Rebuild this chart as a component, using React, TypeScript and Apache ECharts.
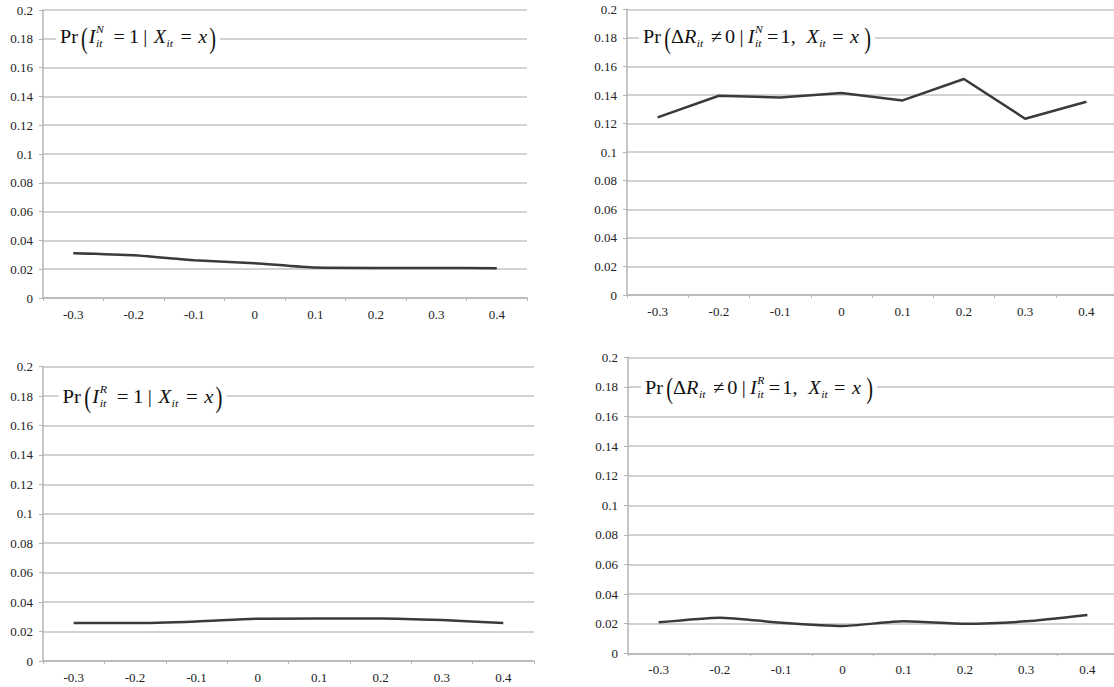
import React, { useEffect, useRef } from "react";
import * as echarts from "echarts";

// ---------- data ----------
const categories = ["-0.3", "-0.2", "-0.1", "0", "0.1", "0.2", "0.3", "0.4"];
const probNoticeN = [0.0311, 0.0297, 0.0263, 0.0242, 0.0211, 0.0209, 0.0209, 0.0207];
const probChangeN = [0.1243, 0.1395, 0.1383, 0.1414, 0.1362, 0.1512, 0.1234, 0.1353];
const probNoticeR = [0.0258, 0.0258, 0.0269, 0.0287, 0.0289, 0.0289, 0.0278, 0.0258];
const probChangeR = [0.0209, 0.0241, 0.0207, 0.0185, 0.0216, 0.02, 0.0216, 0.0259];
const yMin = 0;
const yMax = 0.2;
const yStep = 0.02;

// ---------- formula tokens ----------
type Tok = { t?: string; i?: boolean; big?: boolean; sup?: string; sub?: string; g?: number };

const formulaNotice = (s: string): Tok[] => [
  { t: "Pr", g: 3 },
  { t: "(", big: true, g: 1 },
  { t: "I", i: true, g: 0.5 },
  { sup: s, sub: "it", g: 9 },
  { t: "=", g: 4 },
  { t: "1", g: 4 },
  { t: "|", g: 6 },
  { t: "X", i: true, g: 0.5 },
  { sub: "it", g: 7 },
  { t: "=", g: 6 },
  { t: "x", i: true, g: 2 },
  { t: ")", big: true, g: 0 },
];

const formulaChange = (s: string): Tok[] => [
  { t: "Pr", g: 3 },
  { t: "(", big: true, g: 0 },
  { t: "Δ", g: 0 },
  { t: "R", i: true, g: 0.5 },
  { sub: "it", g: 7 },
  { t: "≠", g: 3 },
  { t: "0", g: 4 },
  { t: "|", g: 4 },
  { t: "I", i: true, g: 0.5 },
  { sup: s, sub: "it", g: 4 },
  { t: "=", g: 2 },
  { t: "1", g: 0 },
  { t: ",", g: 10 },
  { t: "X", i: true, g: 0.5 },
  { sub: "it", g: 6 },
  { t: "=", g: 6 },
  { t: "x", i: true, g: 5 },
  { t: ")", big: true, g: 0 },
];

const MAIN = 19;
const SCRIPT = 11;
const FONT = "Liberation Serif";
const INK = "#111111";

const fontStr = (size: number, italic?: boolean) =>
  `${italic ? "italic " : ""}${size}px "${FONT}", serif`;

function makeMeasure() {
  const c = document.createElement("canvas");
  const ctx = c.getContext("2d")!;
  return (text: string, size: number, italic?: boolean) => {
    ctx.font = fontStr(size, italic);
    return ctx.measureText(text).width;
  };
}

function textEl(text: string, x: number, y: number, size: number, italic: boolean, scaleY = 1) {
  return {
    type: "text",
    x,
    y,
    scaleY,
    z: 51,
    silent: true,
    style: {
      text,
      x: 0,
      y: 0,
      font: fontStr(size, italic),
      fill: INK,
      align: "left",
      verticalAlign: "middle",
      textAlign: "left",
      textVerticalAlign: "middle",
    },
  };
}

function buildFormula(
  measure: (t: string, s: number, i?: boolean) => number,
  toks: Tok[],
  x0: number,
  cy: number,
  targetW: number
) {
  let x = 0;
  const children: any[] = [];
  for (const tk of toks) {
    if (tk.t !== undefined) {
      const w = measure(tk.t, MAIN, tk.i);
      children.push(textEl(tk.t, x, tk.big ? 1 : 0, MAIN, !!tk.i, tk.big ? 1.5 : 1));
      x += w + (tk.g || 0);
    } else {
      const ws = tk.sup ? measure(tk.sup, SCRIPT, true) : 0;
      const wb = tk.sub ? measure(tk.sub, SCRIPT, true) : 0;
      if (tk.sup) children.push(textEl(tk.sup, x, -7.5, SCRIPT, true));
      if (tk.sub) children.push(textEl(tk.sub, x, 6.5, SCRIPT, true));
      x += Math.max(ws, wb) + (tk.g || 0);
    }
  }
  const sx = Math.max(0.85, Math.min(1.15, targetW / x));
  return [
    {
      type: "rect",
      z: 50,
      silent: true,
      shape: { x: x0 - 4, y: cy - 14, width: x * sx + 8, height: 28 },
      style: { fill: "#ffffff" },
    },
    { type: "group", x: x0, y: cy, scaleX: sx, z: 51, silent: true, children },
  ];
}

// ---------- layout ----------
const grids = [
  { left: 43, top: 10, width: 484, height: 288 },
  { left: 627, top: 9.3, width: 490, height: 285.7 },
  { left: 43, top: 366.6, width: 491, height: 294.4 },
  { left: 628, top: 357.3, width: 490, height: 296 },
];
const seriesData = [probNoticeN, probChangeN, probNoticeR, probChangeR];
const smoothing = [0.2, false, 0.2, 0.2];

const GRID_COLOR = "#c3c3c3";
const AXIS_COLOR = "#b5b5b5";
const LABEL_COLOR = "#222222";
const LABEL_FONT = "'Liberation Serif', serif";

export default function App() {
  const ref = useRef<HTMLDivElement>(null);

  useEffect(() => {
    document.body.style.margin = "0";
    if (!ref.current) return;
    const chart = echarts.init(ref.current, undefined, { renderer: "svg" });
    const measure = makeMeasure();

    const graphicEls = [
      ...buildFormula(measure, formulaNotice("N"), 60, 36.8, 156),
      ...buildFormula(measure, formulaChange("N"), 643, 36.7, 228),
      ...buildFormula(measure, formulaNotice("R"), 62.5, 396.7, 160),
      ...buildFormula(measure, formulaChange("R"), 645, 387.3, 228),
    ];

    const option: any = {
      animation: false,
      backgroundColor: "#ffffff",
      grid: grids.map((g) => ({ ...g, outerBoundsMode: "none", containLabel: false })),
      xAxis: grids.map((_, i) => ({
        gridIndex: i,
        type: "category",
        data: categories,
        boundaryGap: true,
        axisLine: { show: true, lineStyle: { color: AXIS_COLOR, width: 1.5 } },
        axisTick: { show: true, length: 3, alignWithLabel: false, lineStyle: { color: AXIS_COLOR, width: 1 } },
        axisLabel: { show: true, margin: 10, fontFamily: LABEL_FONT, fontSize: 13, color: LABEL_COLOR, interval: 0 },
        splitLine: { show: false },
      })),
      yAxis: grids.map((_, i) => ({
        gridIndex: i,
        type: "value",
        min: yMin,
        max: yMax,
        interval: yStep,
        axisLine: { show: true, lineStyle: { color: AXIS_COLOR, width: 1.5 } },
        axisTick: { show: true, length: 4, lineStyle: { color: AXIS_COLOR, width: 1 } },
        axisLabel: {
          show: true,
          margin: 10,
          fontFamily: LABEL_FONT,
          fontSize: 13,
          color: LABEL_COLOR,
          formatter: (v: number) => String(parseFloat(v.toFixed(2))),
        },
        splitLine: { show: true, lineStyle: { color: GRID_COLOR, width: 1.5 } },
      })),
      series: seriesData.map((d, i) => ({
        type: "line",
        xAxisIndex: i,
        yAxisIndex: i,
        data: d,
        symbol: "none",
        smooth: smoothing[i],
        lineStyle: { color: "#3a3a3a", width: 2.5 },
        emphasis: { disabled: true },
        silent: true,
        z: 3,
      })),
      graphic: { elements: graphicEls },
    };
    chart.setOption(option);
    return () => chart.dispose();
  }, []);

  return <div ref={ref} style={{ width: 1114, height: 687 }} />;
}
